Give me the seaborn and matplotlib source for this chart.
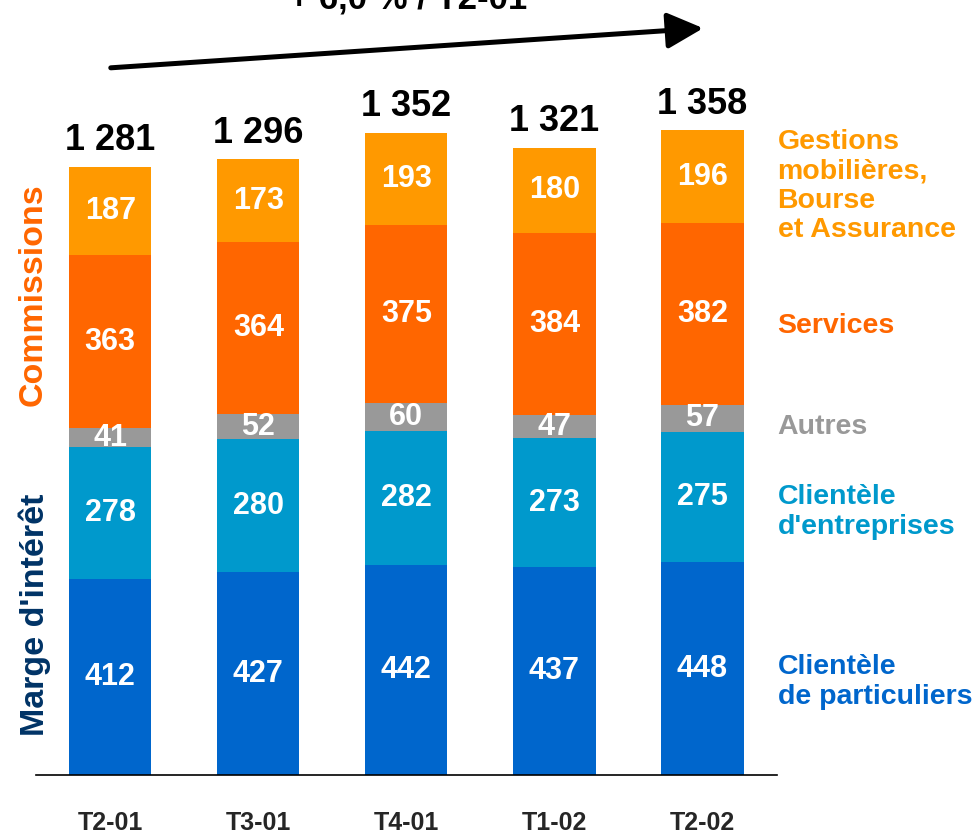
import numpy as np
import pandas as pd
import matplotlib
matplotlib.use('Agg')
import matplotlib.pyplot as plt
import seaborn as sns

quarters = ['T2-01', 'T3-01', 'T4-01', 'T1-02', 'T2-02']
particuliers = [412, 427, 442, 437, 448]
entreprises = [278, 280, 282, 273, 275]
autres = [41, 52, 60, 47, 57]
services = [363, 364, 375, 384, 382]
gestions = [187, 173, 193, 180, 196]
totals = ['1 281', '1 296', '1 352', '1 321', '1 358']

series_names = ['Clientèle\nde particuliers', "Clientèle\nd'entreprises", 'Autres',
                'Services', 'Gestions\nmobilières,\nBourse\net Assurance']
series_values = [particuliers, entreprises, autres, services, gestions]
colors = ['#0066CC', '#0099CC', '#999999', '#FF6600', '#FF9900']
label_pos = [682, 512, 427, 326, 186]  # vertical pixel position of right labels

sns.set_style('white')
plt.rcParams['font.family'] = ['Liberation Sans', 'DejaVu Sans']
plt.rcParams['font.weight'] = 'bold'

fig = plt.figure(figsize=(9.78, 8.35), dpi=100)
ax = fig.add_axes([0.037, 0.072, 0.757, 0.853])

bottom = np.zeros(len(quarters))
for name, vals, col in zip(series_names, series_values, colors):
    df = pd.DataFrame({'q': quarters, 'v': vals})
    sns.barplot(data=df, x='q', y='v', color=col, bottom=bottom, width=0.555,
                linewidth=0, saturation=1, ax=ax)
    for i, v in enumerate(vals):
        ax.text(i, bottom[i] + v / 2, str(v), ha='center', va='center',
                color='white', fontsize=22, fontweight='bold')
    bottom = bottom + np.array(vals)

for i, t in enumerate(totals):
    ax.text(i, bottom[i] + 18, t, ha='center', va='bottom', color='black',
            fontsize=26, fontweight='bold')

ax.set_xlim(-0.5, 4.5)
ax.set_ylim(0, 1500)
ax.set_xlabel('')
ax.set_ylabel('')
ax.set_yticks([])
ax.tick_params(axis='x', length=0, pad=26)
for lab in ax.get_xticklabels():
    lab.set_fontsize(18)
    lab.set_fontweight('bold')
for s in ['top', 'right', 'left']:
    ax.spines[s].set_visible(False)
ax.spines['bottom'].set_color('black')
ax.spines['bottom'].set_linewidth(1.2)

# right-hand labels for each series
for name, col, ypx in zip(series_names, colors, label_pos):
    fig.text(0.795, 1 - ypx / 835, name, color=col, fontsize=20.5,
             fontweight='bold', va='center', linespacing=1.18)

# left vertical group labels
fig.text(0.034, 1 - 295 / 835, 'Commissions', color='#FF6600', fontsize=24.5,
         fontweight='bold', rotation=90, ha='center', va='center')
fig.text(0.036, 1 - 615 / 835, "Marge d'intérêt", color='#003366', fontsize=24.5,
         fontweight='bold', rotation=90, ha='center', va='center')

# growth arrow and title (cut at the top, as in the original)
fig.add_artist(matplotlib.patches.FancyArrowPatch(
    (108 / 978, 1 - 68 / 835), (706 / 978, 1 - 28 / 835),
    transform=fig.transFigure, arrowstyle='-|>,head_length=1.1,head_width=0.55',
    mutation_scale=20, color='black', linewidth=3.6))
fig.text(0.417, 1 - 9 / 835, '+ 6,0 % / T2-01', color='black', fontsize=25,
         fontweight='bold', ha='center', va='baseline')

fig.savefig('out.png', dpi=100)
